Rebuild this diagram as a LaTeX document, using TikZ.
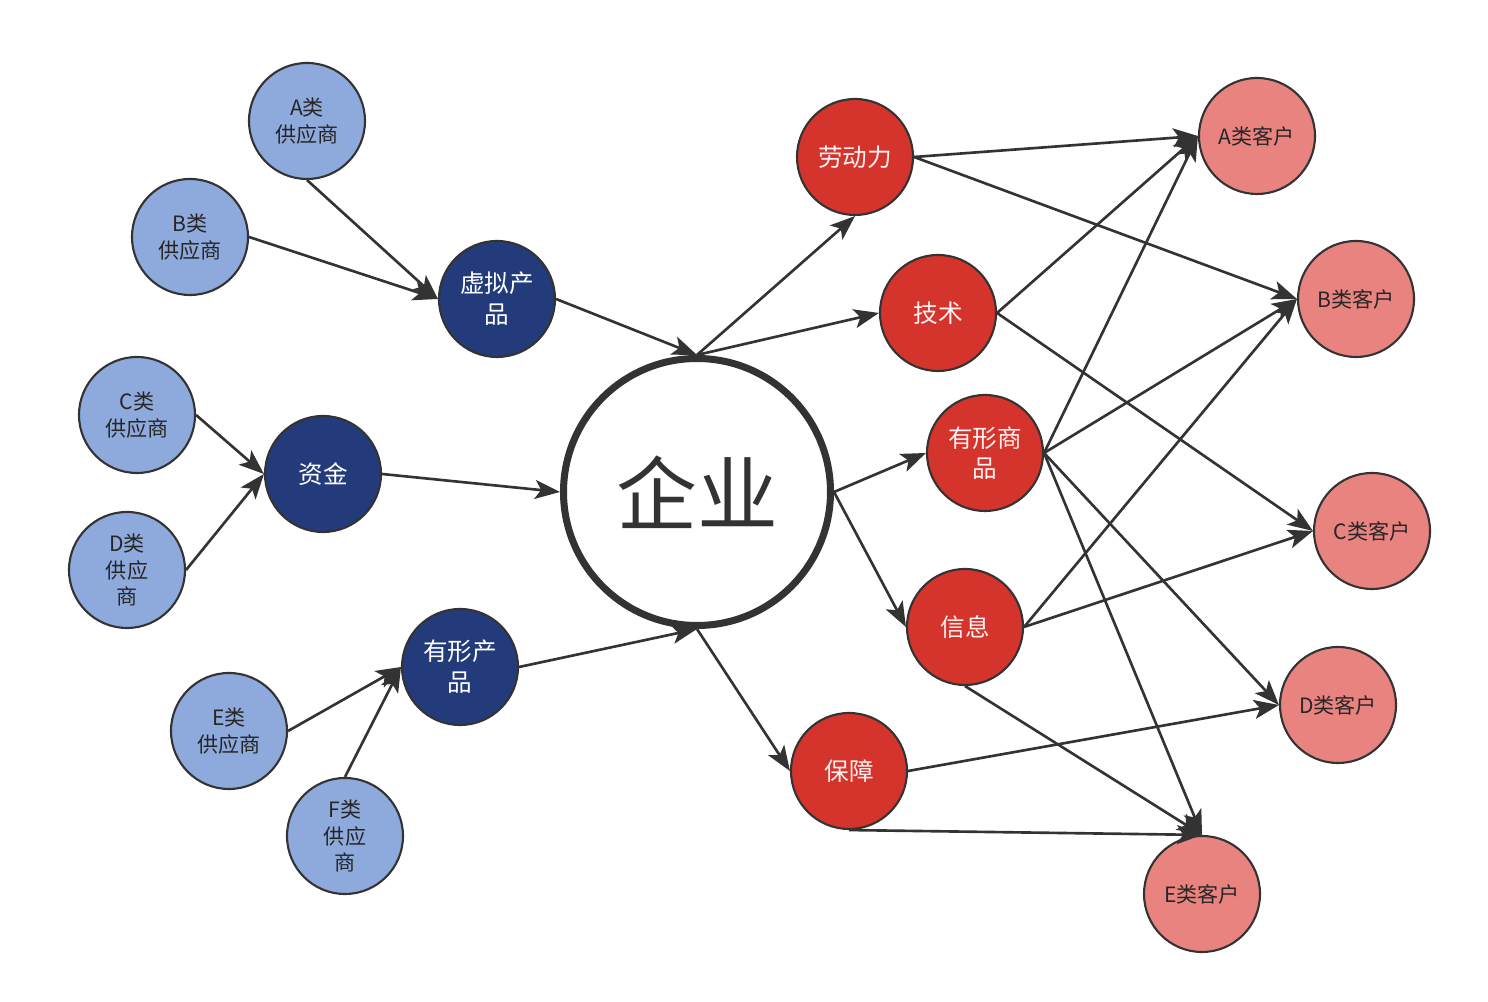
\documentclass[tikz,border=0pt]{standalone}
\usepackage{fontspec}
\newfontfamily\cjk{Noto Sans CJK SC}
\usetikzlibrary{arrows.meta}
\definecolor{supblue}{HTML}{8EA9DB}
\definecolor{resblue}{HTML}{233B7A}
\definecolor{offred}{HTML}{D5342C}
\definecolor{cuspink}{HTML}{E9837F}
\definecolor{edgegray}{HTML}{333333}
\tikzset{
	ball/.style={circle, draw=edgegray, line width=1.2pt, minimum size=2.32cm, inner sep=0pt, align=center, font=\cjk\fontsize{12}{15}\selectfont},
	supp/.style={ball, fill=supblue, text=black!85},
	res/.style={ball, fill=resblue, text=white, font=\cjk\fontsize{14}{17.5}\selectfont},
	offer/.style={ball, fill=offred, text=white!95!red, font=\cjk\fontsize{14}{17.5}\selectfont},
	cust/.style={ball, fill=cuspink, text=black!85},
	firm/.style={circle, draw=edgegray, fill=white, line width=4pt, minimum size=5.34cm, inner sep=0pt, text=edgegray, font=\cjk\fontsize{46}{50}\selectfont},
	link/.style={draw=edgegray, line width=1.5pt, -{Stealth[length=5mm,width=3.8mm,inset=1.2mm]}}
}

\begin{document}
\begin{tikzpicture}
		%%%%% START %%%%%
		\useasboundingbox (0, 0) rectangle (29.76, 20.04);
		
		% suppliers
		\node[supp] (supA) at (6.14, 17.62) {A类\\供应商};
		\node[supp] (supB) at (3.80, 15.30) {B类\\供应商};
		\node[supp] (supC) at (2.74, 11.74) {C类\\供应商};
		\node[supp] (supD) at (2.54, 8.64) {D类\\供应\\商};
		\node[supp] (supE) at (4.58, 5.42) {E类\\供应商};
		\node[supp] (supF) at (6.90, 3.32) {F类\\供应\\商};
		
		% resources
		\node[res] (virt) at (9.94, 14.06) {虚拟产\\品};
		\node[res] (fund) at (6.46, 10.56) {资金};
		\node[res] (tang) at (9.20, 6.70) {有形产\\品};
		
		\node[firm] (firm) at (13.94, 10.20) {企业};
		
		% offers
		\node[offer] (labor) at (17.10, 16.90) {劳动力};
		\node[offer] (tech) at (18.76, 13.78) {技术};
		\node[offer] (goods) at (19.70, 10.98) {有形商\\品};
		\node[offer] (info) at (19.30, 7.50) {信息};
		\node[offer] (guard) at (16.98, 4.62) {保障};
		
		% customers
		\node[cust] (cusA) at (25.14, 17.32) {A类客户};
		\node[cust] (cusB) at (27.12, 14.06) {B类客户};
		\node[cust] (cusC) at (27.44, 9.42) {C类客户};
		\node[cust] (cusD) at (26.76, 5.94) {D类客户};
		\node[cust] (cusE) at (24.04, 2.16) {E类客户};
		
		\draw[link] (supA.south) -- (virt.west);
		\draw[link] (supB.east) -- (virt.west);
		\draw[link] (supC.east) -- (fund.west);
		\draw[link] (supD.east) -- (fund.west);
		\draw[link] (supE.east) -- (tang.west);
		\draw[link] (supF.north) -- (tang.west);
		
		\draw[link] (virt.east) -- (firm.north);
		\draw[link] (fund.east) -- (firm.west);
		\draw[link] (tang.east) -- (firm.south);
		
		\draw[link] (firm.north) -- (labor.south);
		\draw[link] (firm.north) -- (tech.west);
		\draw[link] (firm.east) -- (goods.west);
		\draw[link] (firm.east) -- (info.west);
		\draw[link] (firm.south) -- (guard.west);
		
		\draw[link] (labor.east) -- (cusA.west);
		\draw[link] (labor.east) -- (cusB.west);
		\draw[link] (tech.east) -- (cusA.west);
		\draw[link] (tech.east) -- (cusC.west);
		\draw[link] (goods.east) -- (cusA.west);
		\draw[link] (goods.east) -- (cusB.west);
		\draw[link] (goods.east) -- (cusD.west);
		\draw[link] (goods.east) -- (cusE.north);
		\draw[link] (info.east) -- (cusB.west);
		\draw[link] (info.east) -- (cusC.west);
		\draw[link] (info.south) -- (cusE.north);
		\draw[link] (guard.east) -- (cusD.west);
		\draw[link] (guard.south) -- (cusE.north);
		%%%%% END %%%%%
	\end{tikzpicture}
\end{document}
